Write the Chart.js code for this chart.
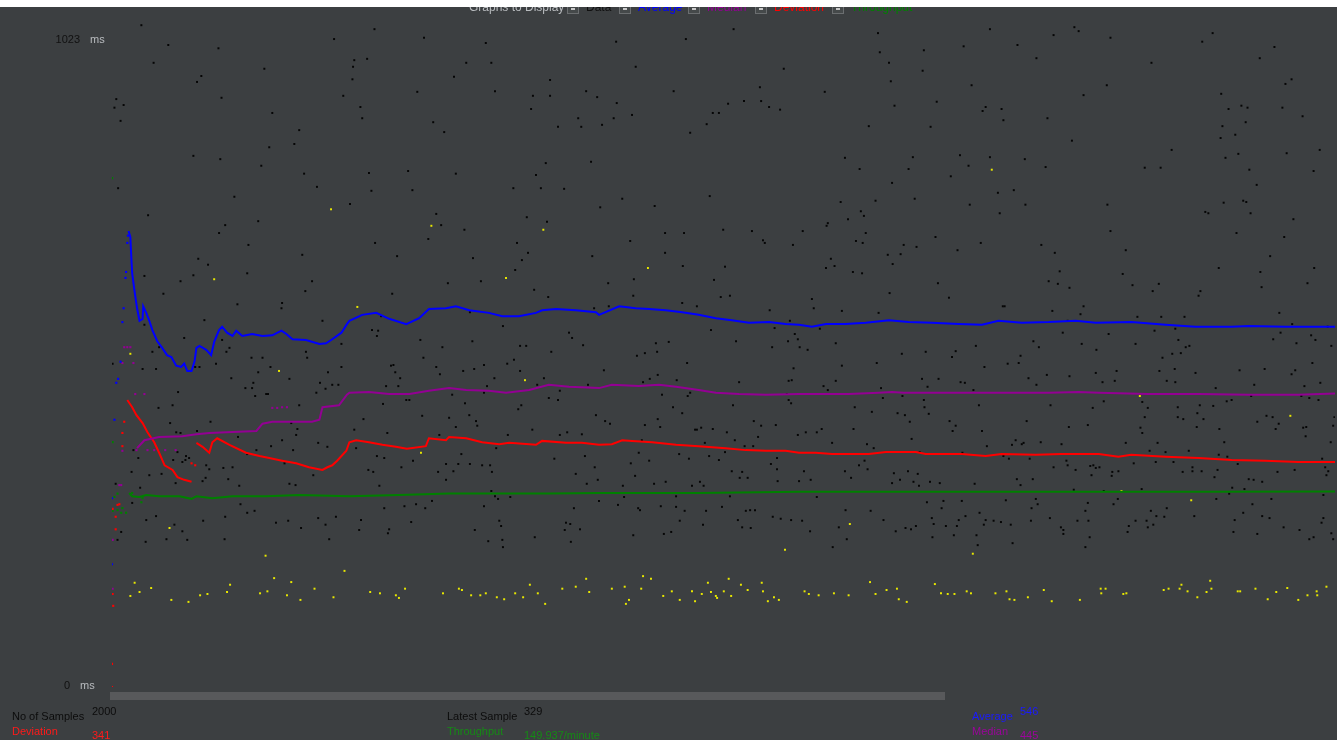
<!DOCTYPE html>
<html>
<head>
<meta charset="utf-8">
<title>Graph Results</title>
<script src="https://cdn.jsdelivr.net/npm/chart.js@4.4.1/dist/chart.umd.min.js"></script>
<style>
  html, body { margin: 0; padding: 0; background: #3c3f41; overflow: hidden; }
  #graph { display: block; }
</style>
</head>
<body>
<canvas id="graph" width="1339" height="740"></canvas>
<script>
// summary figures shown under the graph
const sampleCount = 2000;
const latestSample = 329;
const averageMs = 546;
const medianMs = 445;
const deviationMs = 341;
const throughputPerMin = 149.937;

// vertical range of the graph (ms)
const yAxisMax = 1023;
const yAxisMin = 0;

// running statistics, [sample no, ms]
const averageLine = [[28,691],[31,682],[33,643],[34,627],[38,599],[41,580],[42,574],[46,555],[51,558],[52,577],[57,567],[62,555],[67,541],[75,524],[83,514],[91,503],[98,500],[106,487],[114,485],[119,490],[124,479],[131,479],[136,494],[139,514],[144,517],[155,511],[163,503],[168,523],[176,541],[181,546],[189,537],[198,532],[204,540],[214,532],[230,535],[247,532],[263,533],[278,540],[286,535],[296,527],[318,526],[340,520],[351,521],[361,527],[376,537],[385,550],[389,555],[410,564],[433,567],[454,558],[482,550],[503,559],[519,573],[547,574],[563,577],[585,571],[617,567],[639,562],[666,562],[694,567],[704,571],[727,573],[759,571],[792,568],[797,564],[830,577],[857,574],[879,573],[906,571],[933,568],[960,564],[988,559],[1014,556],[1042,552],[1075,553],[1102,550],[1124,549],[1145,546],[1168,550],[1200,550],[1233,552],[1271,556],[1303,553],[1341,552],[1385,550],[1423,549],[1450,555],[1488,552],[1532,553],[1576,555],[1609,552],[1667,553],[1723,549],[1772,546],[1831,546],[1859,547],[1919,546],[1961,546],[1994,546]];

const medianLine = [[42,362],[54,374],[78,379],[116,380],[139,383],[160,385],[188,386],[237,388],[247,399],[263,402],[296,402],[328,402],[340,405],[345,424],[372,427],[385,443],[389,446],[421,447],[454,444],[487,444],[519,449],[552,453],[580,450],[617,449],[645,446],[683,450],[715,458],[748,455],[797,453],[818,458],[862,456],[895,458],[923,455],[960,450],[988,446],[1026,444],[1070,443],[1124,444],[1205,444],[1254,446],[1276,447],[1295,446],[1369,446],[1450,446],[1532,446],[1581,447],[1614,446],[1695,444],[1777,444],[1859,443],[1940,443]];

const deviationEarly = [[26,435],[34,424],[41,412],[51,400],[59,386],[70,371],[78,355],[87,336],[100,329],[108,318],[119,314],[131,311]];

const deviationLine = [[139,370],[149,364],[160,355],[165,371],[173,377],[193,367],[220,355],[242,350],[258,347],[279,343],[302,339],[323,333],[345,329],[353,333],[361,336],[369,343],[384,358],[389,371],[400,374],[421,371],[443,367],[465,364],[483,361],[514,365],[519,377],[547,374],[552,379],[580,377],[606,371],[634,368],[650,370],[694,367],[704,373],[743,370],[769,370],[797,367],[818,368],[835,374],[851,373],[884,371],[923,367],[960,365],[1004,362],[1037,359],[1070,358],[1102,358],[1124,355],[1151,355],[1178,353],[1205,353],[1238,353],[1266,356],[1315,356],[1331,353],[1390,353],[1429,350],[1455,353],[1511,352],[1553,353],[1614,353],[1646,349],[1667,352],[1723,349],[1777,347],[1831,344],[1886,343],[1940,341]];

// throughput, [sample no, requests/minute]
const throughputLine = [[29,148.9],[34,146.4],[46,145.9],[57,147.4],[78,146.4],[111,146.4],[131,144.4],[139,146.4],[165,144.9],[198,146.4],[253,146.4],[307,147.4],[389,146.4],[470,147.4],[552,148.4],[634,148.4],[715,148.4],[797,148.9],[960,148.9],[1124,149.9],[1450,149.9],[1777,149.9]];

// loose points of the statistics before they settle
const averageStray = [[1,186],[1,286],[5,405],[8,461],[11,467],[15,493],[18,553],[20,574],[23,620],[24,629],[26,673],[27,684]];
const medianStray = [[2,223],[13,306],[16,306],[21,515],[26,515],[31,515],[18,491],[36,491],[39,444],[54,444],[18,358],[41,359],[59,359],[70,359],[88,359],[105,359],[2,149],[263,423],[271,423],[279,424],[287,424]];
const deviationStray = [[2,141],[7,239],[13,277],[18,365],[1,35],[1,0],[3,123],[10,276],[7,258],[18,385],[21,402],[2,270],[131,339],[137,336]];
const throughputStray = [[1,390.5],[2,187.9],[2,135.2],[10,135.7],[5,145.9],[10,148.4],[18,137.3],[24,133.7],[16,133.7],[34,148.9],[49,141.8],[51,144.9]];

// individual sample times, [sample no, ms]
const dataSamples = [
[49,1003],[93,973],[175,968],[364,982],[69,946],[250,937],[147,926],[140,917],[8,891],[20,882],[5,878],[180,893],[379,896],[263,870],[15,858],[307,844],[299,823],[258,818],[134,805],[178,800],[245,790],[315,778],[11,756],[336,758],[201,743],[60,715],[240,706],[186,700],[176,688],[224,670],[142,649],[158,640],[312,655],[54,623],[134,624],[222,627],[113,615],[328,615],[85,596],[317,600],[206,580],[279,582],[278,574],[152,556],[345,555],[54,549],[119,529],[376,520],[78,515],[181,526],[193,514],[188,508],[318,508],[320,499],[67,508],[229,499],[247,499],[2,490],[51,482],[73,482],[171,490],[137,485],[144,485],[260,485],[240,477],[354,477],[376,485],[196,468],[291,467],[232,461],[341,461],[361,458],[219,453],[230,453],[350,452],[371,458],[109,447],[335,446],[235,441],[253,444],[256,444],[77,423],[100,427],[307,427],[96,400],[162,402],[294,400],[304,391],[106,386],[113,385],[140,388],[302,382],[207,379],[279,374],[338,370],[353,364],[36,359],[261,365],[237,359],[108,356],[222,353],[297,359],[44,347],[122,350],[127,347],[101,344],[116,341],[121,344],[155,336],[283,339],[82,323],[62,321],[33,326],[160,330],[183,332],[198,333],[330,321],[191,315],[149,312],[154,317],[209,305],[301,306],[291,308],[105,309],[47,302],[7,308],[34,279],[211,277],[222,264],[234,267],[338,256],[186,258],[150,252],[57,253],[73,259],[103,246],[116,236],[16,235],[310,241],[269,249],[289,252],[350,246],[367,258],[10,223],[56,220],[90,224],[124,223],[185,224],[356,224],
[430,997],[511,984],[612,976],[397,950],[418,952],[580,946],[621,946],[395,940],[394,921],[560,925],[717,920],[500,902],[627,903],[689,896],[717,896],[776,903],[794,894],[407,879],[686,876],[410,862],[526,856],[544,841],[763,862],[768,849],[730,849],[784,796],[710,794],[485,782],[563,778],[421,779],[694,776],[702,756],[657,756],[492,753],[740,755],[425,752],[390,732],[531,717],[712,705],[539,700],[679,712],[577,693],[518,679],[431,673],[663,673],[681,658],[467,653],[591,650],[671,647],[786,653],[660,632],[550,612],[604,615],[691,602],[459,596],[714,591],[789,574],[586,568],[441,562],[426,541],[436,540],[434,532],[640,547],[505,526],[590,524],[748,537],[753,529],[771,518],[668,517],[678,517],[541,515],[510,499],[719,508],[658,496],[647,490],[609,488],[531,485],[593,482],[457,487],[461,488],[464,477],[575,479],[537,474],[707,468],[668,479],[472,468],[626,468],[614,456],[449,456],[469,456],[696,458],[779,458],[609,446],[557,443],[733,449],[482,435],[487,435],[715,438],[730,435],[444,429],[578,430],[670,427],[665,421],[508,411],[585,412],[596,403],[412,406],[552,408],[792,412],[598,396],[536,382],[563,394],[397,390],[451,385],[688,390],[648,382],[733,382],[745,386],[769,383],[400,362],[629,362],[774,350],[724,346],[572,353],[434,350],[446,347],[493,343],[547,338],[586,338],[606,336],[619,336],[790,333],[420,329],[428,326],[534,326],[559,327],[567,338],[474,333],[622,326],[759,323],[547,314],[795,314],[777,308],[438,305],[621,297],[627,289],[632,285],[652,288],[446,271],[479,274],[498,277],[513,271],[524,282],[609,274],[756,271],[408,253],[634,252],[637,244],[743,249],[750,247],[490,250],[454,239],[452,233],[405,238],[594,238],[766,239],[741,238],[692,227],[616,221],[639,223],[751,220],[640,212],
[825,978],[939,982],[1017,997],[857,940],[1099,937],[919,903],[1060,909],[1166,902],[826,885],[1008,884],[1034,888],[1062,888],[1075,879],[1093,875],[851,867],[821,862],[983,870],[993,870],[802,852],[973,853],[946,840],[1199,802],[978,744],[835,740],[1192,735],[799,727],[888,729],[1204,709],[1171,703],[1169,699],[1000,693],[1047,691],[1130,691],[905,688],[936,688],[848,676],[1065,677],[1068,673],[1114,670],[905,658],[1176,649],[934,638],[1003,637],[877,635],[1182,638],[1168,635],[854,618],[985,617],[812,612],[1145,588],[996,591],[1011,593],[853,593],[1148,574],[957,577],[933,582],[813,577],[1076,571],[1194,570],[980,541],[1084,544],[1109,555],[1158,543],[911,523],[1021,524],[1106,524],[1122,527],[890,521],[1117,535],[1125,515],[1184,521],[1080,515],[872,506],[892,508],[859,502],[1138,511],[941,491],[1115,483],[1194,487],[805,480],[893,473],[880,467],[869,462],[924,465],[1026,462],[1107,464],[1112,465],[1184,464],[1164,456],[1171,450],[946,446],[942,441],[900,443],[1104,444],[1107,435],[1111,430],[1016,427],[918,424],[933,415],[807,403],[815,399],[893,406],[1050,403],[1062,396],[897,394],[872,397],[1086,397],[954,390],[957,390],[964,393],[983,391],[1006,386],[1135,386],[1153,386],[1161,391],[1122,382],[1057,379],[1019,374],[867,374],[970,370],[1035,365],[1049,365],[1178,370],[928,353],[862,355],[977,350],[993,344],[944,346],[1003,356],[1088,347],[849,339],[879,343],[1078,338],[1088,330],[1014,327],[1031,326],[1132,327],[1199,327],[856,320],[1027,317],[1040,317],[1143,314],[1089,312],[1124,312],[887,308],[949,305],[962,311],[968,305],[836,305],[906,311],[1011,289],[923,289],[838,288],[1153,288],[797,282],[828,276],[898,274],[923,273],[998,273],[861,271],[864,268],[937,267],[972,267],[1037,267],[1044,268],[1052,268],[1200,268],[1081,258],[1094,255],[1111,253],[1129,252],[929,252],[967,246],[1024,253],[1189,242],[1031,242],[1045,241],[1142,236],[915,235],[903,232],[853,230],[1202,224],[1179,212],
[1253,991],[1436,997],[1574,1000],[1581,994],[1540,988],[1481,973],[1393,971],[1256,962],[1328,965],[1512,953],[1271,946],[1326,934],[1274,918],[1406,912],[1589,897],[1349,887],[1280,881],[1429,879],[1424,873],[1455,876],[1458,859],[1530,862],[1238,850],[1339,849],[1570,828],[1310,803],[1387,806],[1436,803],[1493,800],[1223,785],[1303,785],[1401,790],[1527,788],[1276,764],[1372,774],[1449,749],[1475,753],[1249,737],[1313,740],[1403,731],[1494,731],[1452,718],[1225,721],[1230,714],[1233,688],[1217,676],[1228,673],[1347,682],[1421,673],[1295,670],[1316,667],[1520,670],[1383,662],[1542,658],[1269,655],[1290,656],[1277,641],[1550,630],[1212,629],[1227,627],[1532,615],[1547,611],[1566,605],[1351,612],[1272,597],[1369,590],[1457,577],[1460,577],[1589,577],[1538,570],[1584,565],[1254,567],[1563,555],[1555,537],[1507,524],[1586,520],[1413,517],[1516,515],[1610,511],[1292,505],[1331,508],[1380,509],[1374,500],[1486,502],[1251,491],[1465,490],[1483,491],[1427,485],[1609,476],[1529,473],[1566,471],[1499,468],[1325,467],[1352,467],[1388,462],[1395,461],[1512,458],[1334,455],[1258,453],[1409,450],[1261,438],[1293,441],[1328,435],[1418,427],[1535,427],[1604,423],[1329,424],[1336,414],[1215,424],[1243,417],[1285,415],[1297,412],[1305,402],[1370,403],[1380,396],[1496,403],[1213,391],[1375,388],[1423,388],[1565,394],[1596,397],[1308,376],[1235,368],[1246,362],[1431,365],[1472,367],[1478,374],[1488,368],[1491,370],[1519,371],[1553,368],[1391,355],[1321,356],[1458,350],[1467,346],[1501,346],[1561,343],[1563,336],[1231,343],[1222,336],[1236,330],[1540,333],[1576,329],[1600,335],[1605,336],[1609,332],[1602,321],[1279,324],[1302,327],[1318,323],[1289,314],[1276,309],[1311,311],[1320,305],[1338,311],[1354,309],[1209,317],[1411,308],[1480,315],[1486,306],[1506,315],[1573,299],[1333,280],[1360,282],[1390,282],[1462,283],[1511,285],[1514,277],[1596,279],[1241,267],[1357,271],[1504,271],[1592,267],[1262,253],[1341,256],[1385,253],[1396,259],[1419,264],[1429,253],[1442,252],[1454,250],[1470,246],[1503,252],[1534,256],[1579,252],[1597,252],[1344,247],[1364,244],[1382,244],[1426,246],[1298,241],[1307,239],[1315,244],[1552,242],[1556,238],[1282,236],[1414,230],[1377,230],[1556,232],[1599,227],[1342,227],[1473,218],[1416,215],[1592,212],
[1633,984],[1800,991],[1783,978],[1901,970],[1877,953],[1700,946],[1929,921],[1919,914],[1627,912],[1814,899],[1847,881],[1857,878],[1826,876],[1914,878],[1947,865],[1854,856],[1816,850],[1837,837],[1813,832],[1733,814],[1975,814],[1921,809],[1842,808],[1821,802],[1689,787],[1715,787],[1860,784],[1965,782],[1872,761],[1850,737],[1855,735],[1818,734],[1628,731],[1788,720],[1793,718],[1862,718],[1932,709],[1633,691],[1839,688],[1917,682],[1658,662],[1894,653],[1810,635],[1966,635],[1878,629],[1653,626],[1955,612],[1712,611],[1669,609],[1880,606],[1780,600],[1702,600],[1777,593],[1909,567],[1716,561],[1677,561],[1754,561],[1930,550],[1988,546],[1630,535],[1911,537],[1705,540],[1739,543],[1744,526],[1968,526],[1899,527],[1961,533],[1674,520],[1756,515],[1762,517],[1937,521],[1994,517],[1748,506],[1734,505],[1718,499],[1963,491],[1844,480],[1885,482],[1935,480],[1643,479],[1713,479],[1738,482],[1772,476],[1929,474],[1620,462],[1640,464],[1725,464],[1739,462],[1868,458],[1976,461],[1950,456],[1805,453],[1622,433],[1685,432],[1823,433],[1831,435],[1945,441],[1958,438],[1973,435],[1694,423],[1743,424],[1779,427],[1801,426],[1863,441],[1689,409],[1743,409],[1752,406],[1775,415],[1785,406],[1873,402],[1888,411],[1898,409],[1908,399],[1999,409],[1682,393],[1685,385],[1774,394],[1811,391],[1903,391],[1948,393],[1953,394],[1952,380],[1997,396],[1993,371],[1658,370],[1710,370],[1819,371],[1697,358],[1723,356],[1707,341],[1736,341],[1761,358],[1810,352],[1671,339],[1767,333],[1808,329],[1824,349],[1841,338],[1979,346],[1984,333],[1989,327],[1615,333],[1636,326],[1646,327],[1635,320],[1751,326],[1767,327],[1782,327],[1803,318],[1859,315],[1867,314],[1881,311],[1906,326],[1934,329],[1986,321],[1684,300],[1832,302],[1852,300],[1622,297],[1638,277],[1645,285],[1725,271],[1699,267],[1770,259],[1806,285],[1827,293],[1865,277],[1850,264],[1896,285],[1881,259],[1893,256],[1836,253],[1708,259],[1674,252],[1692,252],[1663,244],[1661,235],[1703,246],[1694,242],[1721,258],[1834,235],[1873,232],[1916,242],[1942,238],[1958,224],[1965,227],[1978,249],[1981,256],[1994,233],[1997,224],[1981,291]
];

// yellow sample points, [sample no, ms]
const yellowSamples = [
[31,505],[168,618],[359,724],[274,479],[95,241],[252,199],[402,576],[523,699],[706,693],[645,620],[676,465],[506,355],[877,635],[1101,208],[1439,784],[1408,202],[1207,247],[1681,441],[1927,411],[1651,297],[1765,283],
[38,158],[31,138],[46,144],[65,150],[98,132],[126,129],[145,139],[157,141],[194,155],[189,144],[243,142],[255,145],[266,165],[294,159],[287,139],[309,132],[332,149],[363,136],[381,176],[423,144],[439,142],[465,139],[470,135],[480,149],[542,142],[568,149],[573,147],[588,139],[603,139],[612,142],[630,136],[642,133],[660,142],[673,136],[684,155],[697,142],[709,126],[737,149],[759,152],[776,164],[781,144],[818,149],[839,152],[841,126],[846,132],[866,149],[869,168],[882,164],[902,138],[916,145],[929,132],[949,145],[954,130],[965,141],[975,158],[980,144],[988,138],[990,135],[1001,145],[1009,164],[1013,138],[1029,155],[1040,147],[1063,158],[1065,145],[1073,130],[1083,136],[1091,132],[1133,145],[1140,141],[1156,139],[1181,142],[1205,139],[1240,159],[1249,141],[1267,147],[1284,149],[1287,133],[1300,129],[1346,156],[1356,142],[1367,141],[1378,141],[1398,145],[1405,142],[1445,142],[1463,145],[1468,133],[1476,132],[1498,136],[1524,147],[1537,130],[1583,132],[1617,149],[1618,142],[1625,149],[1654,141],[1659,142],[1720,147],[1728,149],[1746,149],[1749,155],[1759,145],[1775,136],[1790,144],[1796,161],[1798,149],[1841,145],[1845,145],[1870,149],[1890,133],[1904,144],[1922,150],[1940,132],[1955,139],[1970,145],[1971,139],[1986,152]
];

const COL_AVG = '#0000ff';
const COL_MED = '#930093';
const COL_DEV = '#ff0000';
const COL_TPUT = '#008000';
const UI_FONT = '"Liberation Sans", Arial, sans-serif';

function toXY(points) {
  return points.map(p => ({ x: p[0], y: p[1] }));
}

function lineSet(points, color, axis) {
  return {
    data: toXY(points),
    showLine: true,
    borderColor: color,
    borderWidth: 2,
    pointRadius: 0,
    tension: 0,
    yAxisID: axis || 'y'
  };
}

function dotSet(points, color, axis, size) {
  return {
    data: toXY(points),
    showLine: false,
    pointStyle: 'rect',
    pointRadius: size || 1.3,
    pointBorderWidth: 0,
    backgroundColor: color,
    borderColor: color,
    yAxisID: axis || 'y'
  };
}

// text, scroll bar and header strip drawn around the plot
const frameDecor = {
  id: 'frameDecor',
  afterDraw(chart) {
    const ctx = chart.ctx;
    const area = chart.chartArea;
    const yScale = chart.scales.y;
    ctx.save();

    // range labels on the left
    const topY = yScale.getPixelForValue(yAxisMax) + 28;
    const botY = yScale.getPixelForValue(yAxisMin) - 1;
    ctx.font = '11px ' + UI_FONT;
    ctx.textBaseline = 'middle';
    ctx.textAlign = 'right';
    ctx.fillStyle = '#111111';
    ctx.fillText(String(yAxisMax), 80, topY);
    ctx.fillText(String(yAxisMin), 70, botY);
    ctx.textAlign = 'left';
    ctx.fillStyle = '#b9bcbf';
    ctx.fillText('ms', 90, topY);
    ctx.fillText('ms', 80, botY);

    // horizontal scroll bar
    ctx.fillStyle = '#58595b';
    ctx.fillRect(area.left - 2, area.bottom + 5, 835, 8);

    // summary block
    const rows = [
      ['No of Samples', String(sampleCount), '#0c0c0c', 12, 92],
      ['Latest Sample', String(latestSample), '#0c0c0c', 447, 524],
      ['Average', String(averageMs), '#1a1aff', 972, 1020]
    ];
    const rows2 = [
      ['Deviation', String(deviationMs), '#ff1a1a', 12, 92],
      ['Throughput', throughputPerMin.toFixed(3) + '/minute', '#158a15', 447, 524],
      ['Median', String(medianMs), '#9a059a', 972, 1020]
    ];
    ctx.font = '11px ' + UI_FONT;
    rows.forEach(r => {
      ctx.fillStyle = r[2];
      ctx.fillText(r[0], r[3], 717);
      ctx.fillText(r[1], r[4], 712);
    });
    rows2.forEach(r => {
      ctx.fillStyle = r[2];
      ctx.fillText(r[0], r[3], 732);
      ctx.fillText(r[1], r[4], 736);
    });

    // "Graphs to Display" header, partly under the white strip
    ctx.textBaseline = 'alphabetic';
    ctx.font = '12px ' + UI_FONT;
    ctx.fillStyle = '#b9bcbf';
    ctx.fillText('Graphs to Display', 469, 11);
    const toggles = [
      ['Data', '#111111', 567],
      ['Average', COL_AVG, 619],
      ['Median', COL_MED, 688],
      ['Deviation', COL_DEV, 755],
      ['Throughput', COL_TPUT, 832]
    ];
    toggles.forEach(t => {
      ctx.fillStyle = '#45494a';
      ctx.fillRect(t[2], 1, 12, 13);
      ctx.strokeStyle = '#6b6e70';
      ctx.lineWidth = 1;
      ctx.strokeRect(t[2] + 0.5, 1.5, 11, 12);
      ctx.fillStyle = '#c8c8c8';
      ctx.fillRect(t[2] + 4, 8, 4, 2);
      ctx.fillStyle = t[1];
      ctx.fillText(t[0], t[2] + 19, 11);
    });
    ctx.fillStyle = '#ffffff';
    ctx.fillRect(0, 0, chart.width, 7);
    ctx.fillRect(chart.width - 2, 0, 2, chart.height);

    ctx.restore();
  }
};

new Chart(document.getElementById('graph'), {
  type: 'scatter',
  data: {
    datasets: [
      lineSet(averageLine.concat([[sampleCount, averageMs]]), COL_AVG),
      lineSet(medianLine.concat([[sampleCount, medianMs]]), COL_MED),
      lineSet(deviationEarly, COL_DEV),
      lineSet(deviationLine.concat([[sampleCount, deviationMs]]), COL_DEV),
      lineSet(throughputLine.concat([[sampleCount, throughputPerMin]]), COL_TPUT, 'yRate'),
      dotSet(averageStray, COL_AVG, 'y', 1.5),
      dotSet(medianStray, COL_MED, 'y', 1.5),
      dotSet(deviationStray, COL_DEV, 'y', 1.5),
      dotSet(throughputStray, COL_TPUT, 'yRate', 1.5),
      dotSet(yellowSamples, '#e8e800', 'y', 1.4),
      dotSet(dataSamples, '#050505', 'y', 1.4)
    ]
  },
  options: {
    responsive: false,
    animation: false,
    events: [],
    layout: { padding: { left: 112, right: 3, top: 12, bottom: 53 } },
    scales: {
      x: { type: 'linear', display: false, min: 1, max: sampleCount },
      y: { type: 'linear', display: false, min: yAxisMin, max: yAxisMax },
      yRate: { type: 'linear', axis: 'y', display: false, min: 0, max: 518 }
    },
    plugins: {
      legend: { display: false },
      tooltip: { enabled: false }
    }
  },
  plugins: [frameDecor]
});
</script>
</body>
</html>
